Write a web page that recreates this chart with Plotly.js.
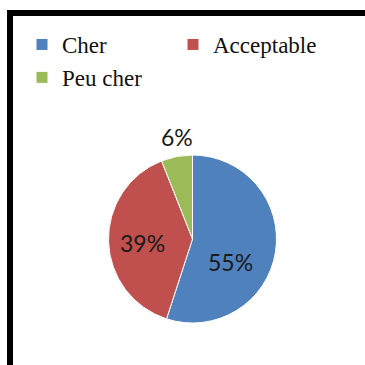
<!DOCTYPE html>
<html>
<head>
<meta charset="utf-8">
<script src="https://cdn.plot.ly/plotly-3.0.1.min.js"></script>
<style>
html,body{margin:0;padding:0;background:#fff;}
#chart{width:365px;height:365px;}
</style>
</head>
<body>
<div id="chart"></div>
<script>
const labels = ["Cher", "Acceptable", "Peu cher"];
const values = [55, 39, 6];
const colors = ["#4F81BD", "#C0504D", "#9BBB59"];

const W = 365, H = 365;
const px = v => v / W;
const py = v => 1 - v / H;
const total = values.reduce((a, b) => a + b, 0);
const pct = values.map(v => Math.round(v / total * 100) + "%");

// label placement (pixel positions in the frame) for each slice
const labelPos = [[231, 262], [142, 243], [177, 137]];

const trace = {
  type: "pie",
  labels: labels,
  values: values,
  sort: false,
  direction: "clockwise",
  rotation: 0,
  marker: {colors: colors, line: {color: "#ffffff", width: 1}},
  textinfo: "none",
  domain: {x: [px(108.5), px(276.5)], y: [py(323), py(155)]},
  hoverinfo: "label+percent"
};

const labelFont = {family: "Lato, 'Open Sans', sans-serif", size: 23, color: "#1a1a1a"};

const layout = {
  width: W, height: H,
  margin: {l: 0, r: 0, t: 0, b: 0},
  paper_bgcolor: "#ffffff",
  showlegend: true,
  legend: {
    orientation: "h",
    x: px(22), xanchor: "left",
    y: py(23), yanchor: "top",
    entrywidth: 106, entrywidthmode: "pixels",
    font: {family: "'Liberation Serif', 'Times New Roman', serif", size: 23, color: "#111"},
    traceorder: "normal",
    bgcolor: "rgba(0,0,0,0)"
  },
  annotations: pct.map((t, i) => ({
    text: t, xref: "paper", yref: "paper",
    x: px(labelPos[i][0]), y: py(labelPos[i][1]),
    xanchor: "center", yanchor: "middle",
    showarrow: false, font: labelFont
  })),
  shapes: [
    {type: "line", xref: "paper", yref: "paper", x0: px(10), x1: px(10), y0: py(10), y1: py(370), line: {color: "#000", width: 6}},
    {type: "line", xref: "paper", yref: "paper", x0: px(7), x1: px(370), y0: py(13), y1: py(13), line: {color: "#000", width: 6}}
  ]
};

Plotly.newPlot("chart", [trace], layout, {staticPlot: true, displayModeBar: false});
</script>
</body>
</html>
